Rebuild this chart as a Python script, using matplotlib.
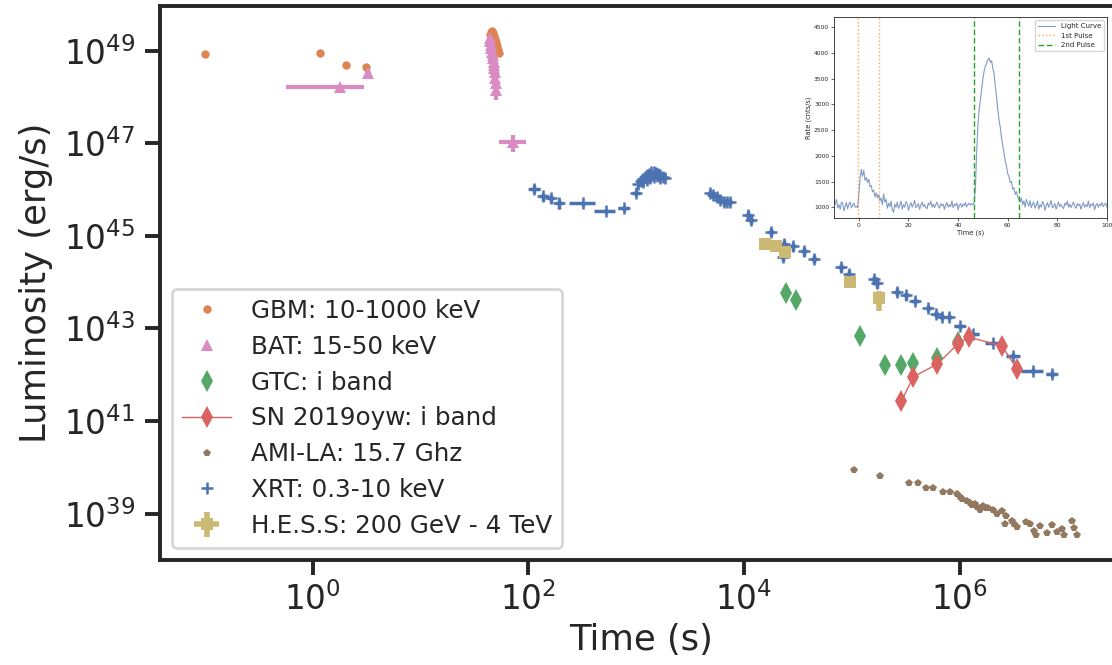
import matplotlib
matplotlib.use('Agg')
import matplotlib.pyplot as plt
import numpy as np

# Colours (seaborn "deep" palette)
GBM_COLOR = '#DD8452'
BAT_COLOR = '#DA8BC3'
GTC_COLOR = '#55A868'
SN_COLOR = '#DA6462'
AMI_COLOR = '#937860'
XRT_COLOR = '#4C72B0'
HESS_COLOR = '#CCB974'
INK = '#262626'

# GBM: 10-1000 keV
gbm_t = [0.1, 1.17, 2.02, 3.12, 44, 45, 46, 47, 48, 49, 50, 51, 52, 53]
gbm_L = [8.5e48, 8.8e48, 5.0e48, 4.5e48, 2.2e49, 2.5e49, 2.6e49, 2.4e49, 2.1e49,
         1.8e49, 1.5e49, 1.25e49, 1.05e49, 9e48]

# BAT: 15-50 keV (time errors are minus / plus in seconds)
bat_t = [1.79, 3.28, 44.0, 44.5, 45.0, 45.5, 46.0, 46.5, 47.0, 47.5, 48.0, 48.5,
         49.0, 49.5, 50.0, 50.5, 72.6]
bat_L = [1.64e48, 3.3e48, 1.9e49, 1.6e49, 1.35e49, 1.15e49, 9.5e48, 8e48, 6.8e48,
         5.8e48, 5e48, 4.2e48, 3.4e48, 2.6e48, 2.0e48, 1.4e48, 1.08e47]
bat_terr_lo = [1.22, 0.2, 0.3, 0.3, 0.3, 0.3, 0.3, 0.3, 0.3, 0.3, 0.3, 0.3, 0.3, 0.3,
               0.3, 0.3, 18.8]
bat_terr_hi = [1.20, 0.2, 0.3, 0.3, 0.3, 0.3, 0.3, 0.3, 0.3, 0.3, 0.3, 0.3, 0.3, 0.3,
               0.3, 0.3, 22.0]
bat_Lfrac_lo = [0.1, 0.15, 0.1, 0.1, 0.1, 0.1, 0.1, 0.1, 0.1, 0.1, 0.15, 0.15, 0.15,
                0.2, 0.25, 0.4, 0.4]
bat_Lfrac_hi = [0.1, 0.15, 0.1, 0.1, 0.1, 0.1, 0.1, 0.1, 0.1, 0.1, 0.15, 0.15, 0.15,
                0.2, 0.25, 0.3, 0.4]

# GTC: i band
gtc_t = [24600, 30400, 119000, 205000, 289000, 373000, 622000, 962000]
gtc_L = [5.9e43, 4.2e43, 6.9e42, 1.6e42, 1.6e42, 1.8e42, 2.3e42, 5.1e42]

# SN 2019oyw: i band
sn_t = [289000, 373000, 622000, 962000, 1.21e6, 2.47e6, 3.44e6]
sn_L = [2.7e41, 9.1e41, 1.7e42, 4.6e42, 6.5e42, 4.2e42, 1.3e42]

# AMI-LA: 15.7 GHz
ami_t = [1.05e5, 1.83e5, 3.40e5, 4.15e5, 4.89e5, 5.71e5, 7.08e5, 8.17e5, 9.42e5,
         1.0e6, 1.05e6, 1.17e6, 1.25e6, 1.30e6, 1.40e6, 1.45e6, 1.55e6, 1.66e6,
         1.75e6, 1.85e6, 2.06e6, 2.21e6, 2.47e6, 2.70e6, 2.64e6, 3.05e6, 3.2e6,
         3.44e6, 4.14e6, 4.51e6, 4.9e6, 5.13e6, 5.58e6, 6.44e6, 7.16e6, 8.0e6,
         8.87e6, 9.33e6, 1.10e7, 1.14e7, 1.24e7]
ami_L = [8.8e39, 6.6e39, 4.6e39, 4.6e39, 3.5e39, 3.5e39, 2.9e39, 2.9e39, 2.7e39,
         2.3e39, 2.1e39, 1.9e39, 1.7e39, 1.55e39, 1.6e39, 1.4e39, 1.2e39, 1.45e39,
         1.35e39, 1.3e39, 1.2e39, 1.0e39, 1.15e39, 8.7e38, 5.9e38, 6.8e38, 6.0e38,
         5.1e38, 6.6e38, 5.9e38, 4.2e38, 3.5e38, 5.4e38, 3.9e38, 5.6e38, 4.0e38,
         4.6e38, 3.5e38, 6.8e38, 4.8e38, 3.5e38]

# XRT: 0.3-10 keV (time error as a fraction of t, luminosity error as a fraction of L)
xrt_t = [114, 138, 161, 193, 324, 522, 773, 997,
         1050, 1100, 1150, 1200, 1260, 1320, 1380, 1450, 1520, 1600, 1680, 1760, 1850,
         1150, 1250, 1350, 1450, 1550, 1650, 1300,
         4850, 5200, 5600, 6000, 6500, 7000, 7400,
         10850, 11570, 17800, 22900, 23550, 28700, 36100, 44700, 79100, 93300,
         162000, 172000, 262000, 317000, 386000, 514000, 602000, 692000, 804000,
         1.01e6, 1.34e6, 2.06e6, 3.16e6, 4.84e6, 7.17e6]
xrt_L = [1.03e46, 7.1e45, 6.5e45, 5.0e45, 5.0e45, 3.5e45, 4.0e45, 8.5e45,
         1.3e46, 1.5e46, 1.7e46, 1.9e46, 2.1e46, 2.2e46, 2.35e46, 2.4e46, 2.3e46,
         2.2e46, 2.05e46, 1.9e46, 1.8e46,
         1.45e46, 1.6e46, 1.8e46, 1.9e46, 2.0e46, 1.75e46, 1.95e46,
         8.5e45, 7.6e45, 6.8e45, 6.0e45, 5.3e45, 5.5e45, 5.5e45,
         2.8e45, 2.2e45, 1.23e45, 3.5e44, 6.8e44, 5.9e44, 4.7e44, 3.2e44, 2.1e44,
         1.5e44, 1.15e44, 9.5e43, 6.2e43, 5.2e43, 3.9e43, 2.75e43, 2.1e43, 1.75e43,
         1.75e43, 1.12e43, 7.6e42, 4.9e42, 2.6e42, 1.23e42, 1.05e42]
xrt_tfrac = [0.12, 0.1, 0.08, 0.08, 0.27, 0.22, 0.12, 0.08,
             0.03, 0.03, 0.03, 0.03, 0.03, 0.03, 0.03, 0.03, 0.03, 0.03, 0.03, 0.03, 0.03,
             0.03, 0.03, 0.03, 0.03, 0.03, 0.03, 0.03,
             0.04, 0.04, 0.04, 0.04, 0.04, 0.04, 0.04,
             0.06, 0.06, 0.06, 0.06, 0.06, 0.06, 0.06, 0.06, 0.06, 0.06,
             0.06, 0.06, 0.06, 0.06, 0.08, 0.06, 0.06, 0.06, 0.06,
             0.12, 0.12, 0.16, 0.14, 0.24, 0.12]
xrt_Lfrac = [0.2, 0.2, 0.2, 0.25, 0.1, 0.1, 0.12, 0.15,
             0.12, 0.12, 0.12, 0.12, 0.12, 0.12, 0.12, 0.12, 0.12, 0.12, 0.12, 0.12, 0.12,
             0.12, 0.12, 0.12, 0.12, 0.12, 0.12, 0.12,
             0.15, 0.15, 0.15, 0.15, 0.15, 0.15, 0.15,
             0.2, 0.2, 0.2, 0.2, 0.2, 0.2, 0.2, 0.2, 0.2, 0.2,
             0.2, 0.2, 0.2, 0.2, 0.15, 0.15, 0.15, 0.15, 0.15,
             0.12, 0.12, 0.12, 0.12, 0.12, 0.15]

# H.E.S.S.: 200 GeV - 4 TeV
hess_t = [15700, 19700, 24100, 96400, 177000]
hess_L = [6.8e44, 5.9e44, 4.4e44, 1.0e44, 4.5e43]
hess_tfrac = [0.05, 0.05, 0.05, 0.05, 0.05]
hess_Lfrac_lo = [0.12, 0.12, 0.12, 0.15, 0.47]
hess_Lfrac_hi = [0.12, 0.12, 0.12, 0.15, 0.40]

# Inset: GBM light curve, one value every 0.5 s starting at t = -10 s
lc_rate = [
    1120, 1060, 1150, 990, 1050, 960, 1100, 1080, 930, 1010,     # -10
    1090, 970, 1060, 1100, 990, 1040, 1080, 1000, 1020, 990,     # -5
    1250, 1550, 1740, 1600, 1720, 1520, 1580, 1480, 1550, 1400,  # 0
    1420, 1300, 1330, 1200, 1280, 1180, 1250, 1120, 1180, 1050,  # 5
    1260, 1100, 1150, 980, 1080, 1010, 1120, 950, 900, 1060,     # 10
    1000, 1100, 980, 1040, 1120, 960, 1050, 1000, 1110, 1070,    # 15
    940, 1030, 1090, 1000, 1060, 1130, 990, 1020, 1070, 960,     # 20
    1040, 1100, 1010, 1050, 1000, 970, 1080, 1040, 1120, 1000,   # 25
    1060, 990, 1050, 1100, 1020, 980, 1070, 1030, 1060, 960,     # 30
    1040, 1090, 1000, 1050, 1010, 1120, 990, 1060, 1030, 1080,   # 35
    950, 1040, 1070, 1000, 1060, 1030, 1090, 1010, 1050, 1080,   # 40
    1040, 1070, 1050, 1100, 1400, 2100, 2600, 2900, 3100, 3300,  # 45
    3500, 3650, 3750, 3800, 3880, 3900, 3820, 3850, 3700, 3600,  # 50
    3350, 3150, 2900, 2700, 2550, 2350, 2200, 2050, 1900, 1800,  # 55
    1650, 1600, 1480, 1500, 1350, 1380, 1250, 1300, 1200, 1150,  # 60
    1100, 1180, 1050, 1120, 1000, 1150, 1080, 1020, 1130, 990,   # 65
    1060, 1100, 980, 1040, 1120, 960, 1050, 1000, 1110, 1070,    # 70
    940, 1030, 1090, 1000, 1060, 1130, 990, 1020, 1070, 960,     # 75
    1040, 1100, 1010, 1050, 1000, 970, 1080, 1040, 1120, 1000,   # 80
    1060, 990, 1050, 1100, 1020, 980, 1070, 1030, 1060, 960,     # 85
    1040, 1090, 1000, 1050, 1010, 1120, 990, 1060, 1030, 1080,   # 90
    950, 1040, 1070, 1000, 1060, 1030, 1090, 1010, 1050, 1080,   # 95
    1000]                                                        # 100
lc_time = -10 + 0.5 * np.arange(len(lc_rate))
pulse1_edges = [-0.4, 8.3]
pulse2_edges = [46.6, 64.4]


# Turn fractional errors into the [minus, plus] arrays errorbar wants
def frac_err(values, lo, hi):
    values = np.asarray(values, dtype=float)
    return [values * np.asarray(lo), values * np.asarray(hi)]


plt.rcParams['font.family'] = 'DejaVu Sans'
plt.rcParams['text.color'] = INK
plt.rcParams['axes.labelcolor'] = INK

fig = plt.figure(figsize=(11.12, 6.65), dpi=100)
# Main axes runs a little past the right edge of the picture (cropped original)
ax = fig.add_axes([160 / 1112, 105 / 665, (1122 - 160) / 1112, 554 / 665])

# Error bars first (no labels), markers on top
ax.errorbar(bat_t, bat_L, xerr=[bat_terr_lo, bat_terr_hi],
            yerr=frac_err(bat_L, bat_Lfrac_lo, bat_Lfrac_hi),
            fmt='none', ecolor=BAT_COLOR, elinewidth=3, capsize=0, zorder=2)
ax.errorbar(xrt_t, xrt_L, xerr=frac_err(xrt_t, xrt_tfrac, xrt_tfrac),
            yerr=frac_err(xrt_L, xrt_Lfrac, xrt_Lfrac),
            fmt='none', ecolor=XRT_COLOR, elinewidth=2.5, capsize=0, zorder=2)

h_gbm, = ax.plot(gbm_t, gbm_L, 'o', color=GBM_COLOR, ms=6, mew=0, zorder=3,
                 label='GBM: 10-1000 keV')
h_bat, = ax.plot(bat_t, bat_L, '^', color=BAT_COLOR, ms=9, mew=0, zorder=3,
                 label='BAT: 15-50 keV')
h_gtc, = ax.plot(gtc_t, gtc_L, 'd', color=GTC_COLOR, ms=11, mew=0, zorder=3,
                 label='GTC: i band')
h_sn, = ax.plot(sn_t, sn_L, '-d', color=SN_COLOR, ms=11, mew=0, lw=1, zorder=4,
                label='SN 2019oyw: i band')
h_ami, = ax.plot(ami_t, ami_L, 'p', color=AMI_COLOR, ms=5.5, mew=0, zorder=3,
                 label='AMI-LA: 15.7 Ghz')
h_xrt, = ax.plot(xrt_t, xrt_L, '+', color=XRT_COLOR, ms=9, mew=1.8, zorder=3,
                 label='XRT: 0.3-10 keV')
h_hess = ax.errorbar(hess_t, hess_L, xerr=frac_err(hess_t, hess_tfrac, hess_tfrac),
                     yerr=frac_err(hess_L, hess_Lfrac_lo, hess_Lfrac_hi),
                     fmt='s', color=HESS_COLOR, ms=8, mew=0, elinewidth=4, capsize=0,
                     zorder=3, label='H.E.S.S: 200 GeV - 4 TeV')

ax.set_xscale('log')
ax.set_yscale('log')
ax.set_xlim(0.0383, 3.21e7)
ax.set_ylim(1e38, 9.2e49)
ax.set_xticks([1e0, 1e2, 1e4, 1e6])
ax.set_yticks([1e39, 1e41, 1e43, 1e45, 1e47, 1e49])
ax.minorticks_off()
ax.tick_params(axis='both', which='major', direction='out', length=11, width=2.8,
               color=INK, labelcolor=INK, labelsize=23.5)
ax.tick_params(axis='y', pad=7)
ax.tick_params(axis='x', pad=5)
for side in ax.spines.values():
    side.set_linewidth(2.8)
    side.set_color(INK)

ax.set_xlabel('Time (s)', fontsize=25.5, labelpad=4)
ax.set_ylabel('Luminosity (erg/s)', fontsize=25.5, labelpad=8)

leg = ax.legend(handles=[h_gbm, h_bat, h_gtc, h_sn, h_ami, h_xrt, h_hess],
                loc='lower left', fontsize=17.7, labelspacing=0.48, frameon=True,
                fancybox=True, framealpha=0.8, edgecolor='#cccccc')
leg.get_frame().set_linewidth(2)

# Inset with the prompt light curve
ax_in = fig.add_axes([834 / 1112, (665 - 218) / 665, 273 / 1112, 201 / 665])
ax_in.plot(lc_time, lc_rate, color=XRT_COLOR, alpha=0.7, lw=0.8, label='Light Curve')
for i, edge in enumerate(pulse1_edges):
    ax_in.axvline(edge, color='#ff7f0e', alpha=0.7, ls=':', lw=1.0,
                  label='1st Pulse' if i == 0 else None)
for i, edge in enumerate(pulse2_edges):
    ax_in.axvline(edge, color='#2ca02c', ls=(0, (4, 2)), lw=1.0,
                  label='2nd Pulse' if i == 0 else None)
ax_in.set_xlim(-10, 100)
ax_in.set_ylim(790, 4700)
ax_in.set_xticks([0, 20, 40, 60, 80, 100])
ax_in.set_yticks([1000, 1500, 2000, 2500, 3000, 3500, 4000, 4500])
ax_in.tick_params(labelsize=4.3, length=2, width=0.5, pad=1.5, color=INK,
                  labelcolor=INK)
for side in ax_in.spines.values():
    side.set_linewidth(0.6)
    side.set_color(INK)
ax_in.set_xlabel('Time (s)', fontsize=4.8, labelpad=1)
ax_in.set_ylabel('Rate (cnts/s)', fontsize=4.8, labelpad=1.5)
ax_in.legend(loc='upper right', fontsize=5, framealpha=0.8, edgecolor='#cccccc',
             handlelength=2.5, borderpad=0.4)

fig.savefig('out.png', dpi=100)
